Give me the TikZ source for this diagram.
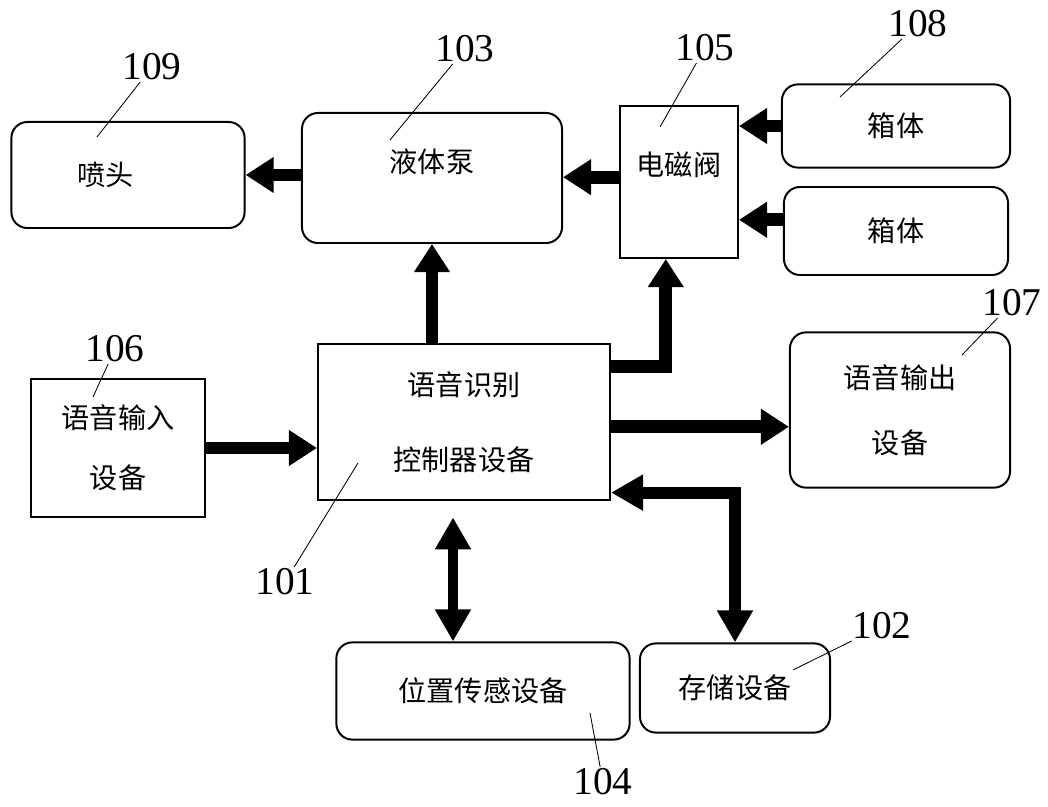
\documentclass[tikz,border=0pt]{standalone}
\usepackage{fontspec}
\setmainfont{Liberation Serif}
\newfontfamily\cjk{Noto Sans CJK SC}
\usetikzlibrary{positioning,arrows.meta}

\begin{document}
\begin{tikzpicture}[x=0.025cm,y=-0.025cm,
    box/.style={draw,line width=1.4pt,font=\cjk\fontsize{20}{24}\selectfont,align=center,inner sep=0pt},
    rbox/.style={box,rounded corners=0.4cm},
    num/.style={font=\fontsize{28}{30}\selectfont,inner sep=1pt},
    leader/.style={line width=0.6pt},
    flow/.style={line width=0.32cm,-{Triangle[length=0.7cm,width=0.85cm]}},
    flowboth/.style={line width=0.3cm,{Triangle[length=0.8cm,width=0.85cm]}-{Triangle[length=0.8cm,width=0.85cm]}}]
    \useasboundingbox (0,0) rectangle (1048,807);
    % boxes
    \node[rbox,minimum width=5.83cm,minimum height=2.65cm] (nozzle) at (128,175) {喷头\hspace*{1.1cm}};
    \node[rbox,minimum width=6.5cm,minimum height=3.25cm,text depth=0.87cm] (pump) at (432,178) {液体泵};
    \node[box,minimum width=2.95cm,minimum height=3.8cm,text depth=0.9cm] (valve) at (679,182) {电磁阀};
    \node[rbox,minimum width=5.7cm,minimum height=2.08cm] (tank1) at (896,126) {箱体};
    \node[rbox,minimum width=5.6cm,minimum height=2.2cm] (tank2) at (896,231) {箱体};
    \node[box,minimum width=7.3cm,minimum height=3.88cm] (ctrl) at (464,422) {语音识别\\[1.03cm]控制器设备};
    \node[box,minimum width=4.33cm,minimum height=3.43cm] (in) at (118,448) {语音输入\\[0.65cm]设备};
    \node[rbox,minimum width=5.5cm,minimum height=3.88cm] (out) at (900,410) {语音输出\\[0.78cm]设备};
    \node[rbox,minimum width=7.33cm,minimum height=2.43cm] (sensor) at (483,691) {位置传感设备};
    \node[rbox,minimum width=4.75cm,minimum height=2.23cm] (store) at (735,688) {存储设备};
    % numbers and leaders
    \node[num] (n109) at (152,67) {109};
    \node[num] (n103) at (465,49) {103};
    \node[num] (n105) at (705,48) {105};
    \node[num] (n108) at (918,24) {108};
    \node[num] (n106) at (115,349) {106};
    \node[num] (n107) at (1012,303) {107};
    \node[num] (n101) at (285,582) {101};
    \node[num] (n104) at (603,782) {104};
    \node[num] (n102) at (882,626) {102};
    \coordinate (t109) at (97,137);
    \coordinate (t103) at (390,140);
    \coordinate (t105) at (660,127);
    \coordinate (t108) at (840,97);
    \coordinate (t106) at (93,397);
    \coordinate (t107) at (962,355);
    \coordinate (t101) at (358,463);
    \coordinate (t104) at (590,713);
    \coordinate (t102) at (793,670);
    \foreach \n in {109,103,105,108,106,107,101,104,102}
      \draw[leader] (n\n) -- (t\n);
    % connectors
    \draw[flow] (pump.west |- nozzle.east) -- (nozzle.east);
    \draw[flow] ([yshift=0.12cm]valve.west) coordinate (v3) -- (v3 -| pump.east);
    \draw[flow] (tank1.west) -- (tank1.west -| valve.east);
    \draw[flow] ([yshift=0.28cm]tank2.west) coordinate (v2) -- (v2 -| valve.east);
    \draw[flow] (ctrl.north -| pump.south) -- (pump.south);
    \draw[flow] ([yshift=-0.58cm]ctrl.north east) -| ([xshift=-0.33cm]valve.south);
    \draw[flow] (in.east) -- (in.east -| ctrl.west);
    \draw[flow] ([yshift=-0.12cm]ctrl.east) coordinate (c7) -- (c7 -| out.west);
    \draw[flowboth] ([yshift=0.2cm]ctrl.south east) -| (store.north);
    \draw[flowboth,line width=0.25cm,shorten >=0.42cm] ([xshift=-0.75cm]sensor.north) -- ([xshift=-0.75cm]sensor.north |- ctrl.south);
  \end{tikzpicture}
\end{document}
